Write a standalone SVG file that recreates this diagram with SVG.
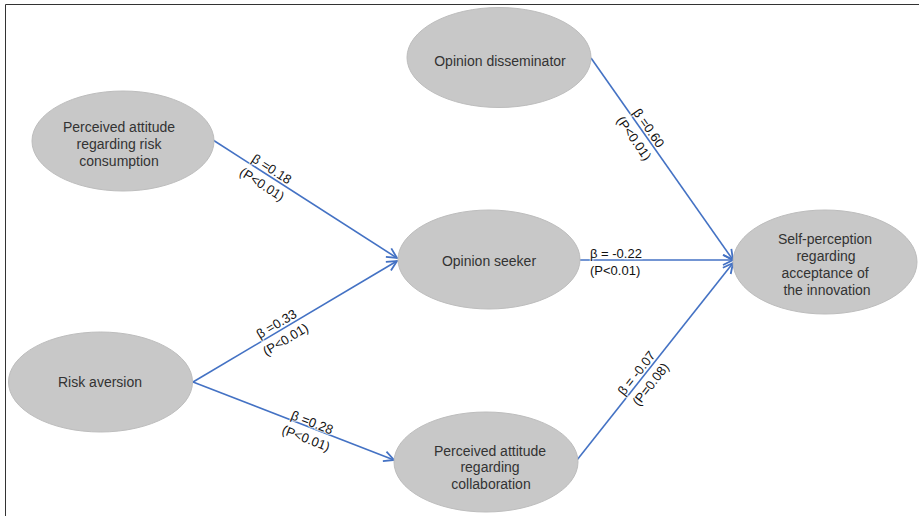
<svg xmlns="http://www.w3.org/2000/svg" width="919" height="516" viewBox="0 0 919 516">
<style>
.node ellipse{fill:#c8c8c8;stroke:#bdbdbd;stroke-width:1}
.node text{font-family:"Liberation Sans",Arial,sans-serif;font-size:14px;fill:#333;text-anchor:middle}
.edge{stroke:#4472c4;stroke-width:1.6;fill:none;marker-end:url(#arr)}
.lbl text{font-family:"Liberation Sans",Arial,sans-serif;font-size:13px;fill:#111;text-anchor:middle;stroke:#fff;stroke-opacity:0.65;stroke-width:2.5;paint-order:stroke}
</style>
<defs>
<marker id="arr" viewBox="-12 -7 14 14" refX="0" refY="0" markerWidth="14" markerHeight="14" markerUnits="userSpaceOnUse" orient="auto">
<path d="M-10,-5 L0,0 L-10,5" fill="none" stroke="#4472c4" stroke-width="1.8" stroke-linejoin="miter"/>
</marker>
</defs>
<rect x="0" y="0" width="919" height="516" fill="#fff"/>
<path d="M5.5,516 L5.5,4.5 L919,4.5" fill="none" stroke="#333" stroke-width="1"/>
<g id="connectors">
<line class="edge" x1="213" y1="140" x2="397" y2="258"/>
<line class="edge" x1="193" y1="382" x2="397" y2="261"/>
<line class="edge" x1="193" y1="382" x2="394" y2="460"/>
<line class="edge" x1="580" y1="260" x2="733" y2="260"/>
<line class="edge" x1="591" y1="58" x2="733" y2="260"/>
<line class="edge" x1="577" y1="460" x2="733" y2="263"/>
<g class="lbl" transform="translate(268,175) rotate(32.7)"><text x="0" y="-2.5">β =0.18</text><text x="0" y="15.5">(P&lt;0.01)</text></g>
<g class="lbl" transform="translate(280,330) rotate(-30.8)"><text x="0" y="-2.5">β =0.33</text><text x="0" y="15.5">(P&lt;0.01)</text></g>
<g class="lbl" transform="translate(310,428) rotate(21.2)"><text x="0" y="-1.5">β =0.28</text><text x="0" y="15.5">(P&lt;0.01)</text></g>
<g class="lbl"><text x="590" y="258" style="text-anchor:start">β = -0.22</text><text x="590" y="275" style="text-anchor:start">(P&lt;0.01)</text></g>
<g class="lbl" transform="translate(643,132) rotate(54.9)"><text x="0" y="-2.5">β =0.60</text><text x="0" y="15.5">(P&lt;0.01)</text></g>
<g class="lbl" transform="translate(642,377.5) rotate(-51.8)"><text x="0" y="-2.5">β = -0.07</text><text x="0" y="15.5">(P=0.08)</text></g>
</g>
<g id="n-risk-consumption" class="node"><ellipse cx="123" cy="141" rx="91" ry="50"/><text x="119" y="132">Perceived attitude</text><text x="119" y="149">regarding risk</text><text x="119" y="166">consumption</text></g>
<g id="n-disseminator" class="node"><ellipse cx="499" cy="57.5" rx="92" ry="50"/><text x="500" y="65.5">Opinion disseminator</text></g>
<g id="n-seeker" class="node"><ellipse cx="489" cy="259.5" rx="91" ry="49.5"/><text x="489" y="265.5">Opinion seeker</text></g>
<g id="n-risk-aversion" class="node"><ellipse cx="100.5" cy="382" rx="92" ry="50"/><text x="100" y="386.5">Risk aversion</text></g>
<g id="n-collaboration" class="node"><ellipse cx="486" cy="462" rx="92" ry="50"/><text x="490" y="455.5">Perceived attitude</text><text x="490" y="472">regarding</text><text x="491" y="488.5">collaboration</text></g>
<g id="n-self-perception" class="node"><ellipse cx="825" cy="262" rx="92" ry="52"/><text x="825" y="244">Self-perception</text><text x="826" y="261">regarding</text><text x="825" y="278">acceptance of</text><text x="827" y="295">the innovation</text></g>
</svg>
